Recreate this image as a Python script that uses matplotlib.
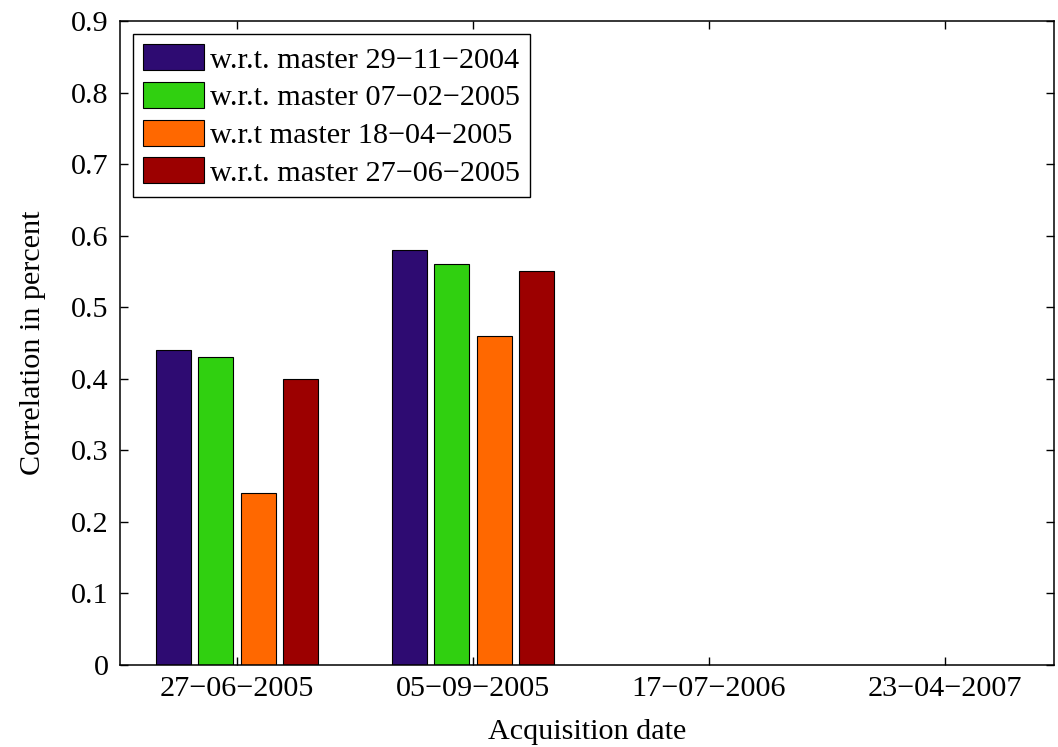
import matplotlib.pyplot as plt
import numpy as np

# acquisition dates on the x axis and correlation per master image
fechas = ["27\u221206\u22122005", "05\u221209\u22122005", "17\u221207\u22122006", "23\u221204\u22122007"]
masters = ["w.r.t. master 29\u221211\u22122004",
           "w.r.t. master 07\u221202\u22122005",
           "w.r.t master 18\u221204\u22122005",
           "w.r.t. master 27\u221206\u22122005"]
m_29_11_2004 = [0.44, 0.58, np.nan, np.nan]
m_07_02_2005 = [0.43, 0.56, np.nan, np.nan]
m_18_04_2005 = [0.24, 0.46, np.nan, np.nan]
m_27_06_2005 = [0.40, 0.55, np.nan, np.nan]

series = [m_29_11_2004, m_07_02_2005, m_18_04_2005, m_27_06_2005]
cores = ["#2e0b72", "#30d010", "#ff6800", "#9c0000"]

plt.rcParams['font.family'] = ['Liberation Serif', 'DejaVu Serif']
plt.rcParams['font.size'] = 21.7

fig = plt.figure(figsize=(10.58, 7.47), dpi=100)
ax = fig.add_axes([0.1134, 0.1098, 0.8828, 0.862])

x = np.arange(1, len(fechas) + 1)
desloc = [-0.27, -0.09, 0.09, 0.27]
for vals, d, c, nome in zip(series, desloc, cores, masters):
    ax.bar(x + d, vals, width=0.15, color=c, edgecolor="black", linewidth=0.8, label=nome)

ax.set_xlim(0.504, 4.462)
ax.set_ylim(0, 0.9)
ax.set_xticks(x)
ax.set_xticklabels(fechas)
ax.set_yticks(np.arange(0, 0.91, 0.1))
ax.set_yticklabels(["0"] + ["%.1f" % v for v in np.arange(0.1, 0.91, 0.1)])
ax.tick_params(direction="in", length=6, width=1, top=True, right=True, pad=8)
for s in ax.spines.values():
    s.set_linewidth(1.1)

ax.set_xlabel("Acquisition date", labelpad=12)
ax.set_ylabel("Correlation in percent", labelpad=18)

leg = ax.legend(loc="upper left", bbox_to_anchor=(0.0, 1.0), borderaxespad=0.42,
                fancybox=False, framealpha=1, edgecolor="black", fontsize=21.8,
                handlelength=2.0, handleheight=0.95, handletextpad=0.2,
                labelspacing=0.27, borderpad=0.35)
leg.get_frame().set_linewidth(1.0)

fig.savefig("out.png", dpi=100)
